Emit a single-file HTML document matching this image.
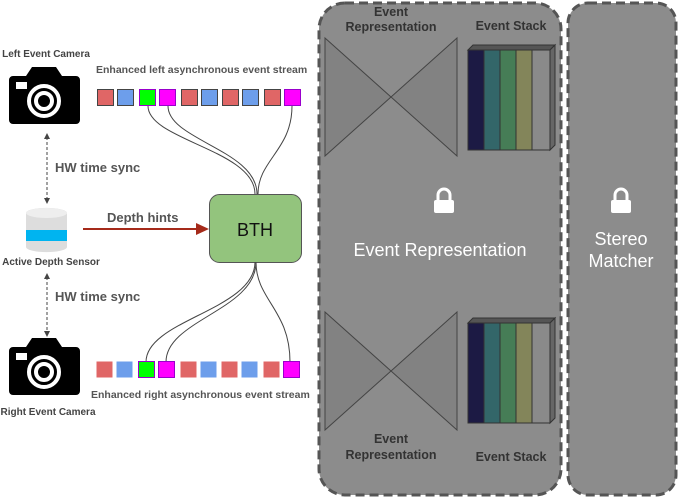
<!DOCTYPE html>
<html><head><meta charset="utf-8"><style>
body{margin:0;width:678px;height:498px;background:#fff;overflow:hidden;font-family:"Liberation Sans",sans-serif}
</style></head><body>
<svg width="678" height="498" xmlns="http://www.w3.org/2000/svg" font-family="Liberation Sans, sans-serif">
<defs>
<g id="cam">
<path d="M32,67 h24 l6,9 h14 a4,4 0 0 1 4,4 v40 a4,4 0 0 1 -4,4 h-63 a4,4 0 0 1 -4,-4 v-40 a4,4 0 0 1 4,-4 h13 z" fill="#000"/>
<rect x="16" y="82" width="11" height="7" fill="#fff"/>
<circle cx="44" cy="101" r="15" fill="none" stroke="#fff" stroke-width="4"/>
<circle cx="44" cy="101" r="8" fill="none" stroke="#fff" stroke-width="4"/>
</g>
<g id="bow">
<polygon points="325,0 391,59 325,118" fill="#828282" stroke="#444" stroke-width="1"/>
<polygon points="457,0 391,59 457,118" fill="#828282" stroke="#444" stroke-width="1"/>
</g>
<g id="stk" stroke="#333" stroke-width="1">
<polygon points="468,5 473,0 555,0 550,5" fill="#555"/>
<polygon points="550,5 555,0 555,100 550,105" fill="#666"/>
<rect x="468" y="5" width="16" height="100" fill="#1c1a44"/>
<rect x="484" y="5" width="16" height="100" fill="#336669"/>
<rect x="500" y="5" width="16" height="100" fill="#467d56"/>
<rect x="516" y="5" width="16" height="100" fill="#83855a"/>
<rect x="532" y="5" width="18" height="100" fill="#8a8a8a"/>
</g>
<g id="lock">
<path d="M-6,0 v-5 a6,6 0 0 1 12,0 v5" fill="none" stroke="#fff" stroke-width="3"/>
<rect x="-10" y="0" width="20" height="13" rx="2" fill="#fff"/>
</g>
</defs>
<rect x="319" y="3" width="242" height="492" rx="26" fill="#8c8c8c" stroke="#555" stroke-width="3" stroke-dasharray="9,5"/>
<rect x="568" y="3" width="108" height="492" rx="20" fill="#8c8c8c" stroke="#555" stroke-width="3" stroke-dasharray="9,5"/>
<use href="#bow" y="38"/>
<use href="#bow" y="312"/>
<use href="#stk" y="45"/>
<use href="#stk" y="318"/>
<g fill="#333" font-weight="bold" font-size="12.5" text-anchor="middle">
<text x="391" y="16">Event</text><text x="391" y="31">Representation</text>
<text x="511" y="30">Event Stack</text>
<text x="391" y="443">Event</text><text x="391" y="459">Representation</text>
<text x="511" y="461">Event Stack</text>
</g>
<use href="#lock" x="444" y="200"/>
<use href="#lock" x="621" y="200"/>
<g fill="#fff" font-size="18" text-anchor="middle">
<text x="440" y="256">Event Representation</text>
<text x="621" y="245">Stereo</text><text x="621" y="267">Matcher</text>
</g>
<use href="#cam"/>
<use href="#cam" y="271"/>
<g fill="#444" font-weight="bold" font-size="10" text-anchor="middle">
<text x="46" y="57">Left Event Camera</text>
<text x="48" y="415">Right Event Camera</text>
<text x="51" y="265">Active Depth Sensor</text>
</g>
<path d="M26,213 a20,5 0 0 1 41,0 v34 a20,5 0 0 1 -41,0 z" fill="#ddd"/>
<ellipse cx="46.5" cy="213" rx="20.5" ry="5" fill="#eee"/>
<rect x="26" y="230" width="41" height="11" fill="#00b4f0"/>
<g stroke="#444" stroke-width="1" stroke-dasharray="3,2">
<line x1="47" y1="137" x2="47" y2="200"/>
<line x1="47" y1="277" x2="47" y2="333"/>
</g>
<g fill="#444">
<polygon points="47,133 44,139 50,139"/><polygon points="47,204 44,198 50,198"/>
<polygon points="47,273 44,279 50,279"/><polygon points="47,337 44,331 50,331"/>
</g>
<g fill="#555" font-weight="bold" font-size="13">
<text x="55" y="172">HW time sync</text>
<text x="55" y="301">HW time sync</text>
<text x="107" y="222">Depth hints</text>
</g>
<line x1="83" y1="229" x2="198" y2="229" stroke="#a52a1a" stroke-width="2"/>
<polygon points="209,229 196,223 196,235" fill="#a52a1a"/>
<rect x="209.5" y="194.5" width="92" height="68" rx="10" fill="#93c47d" stroke="#555"/>
<text x="255" y="236" text-anchor="middle" font-size="18" fill="#111">BTH</text>
<g fill="#555" font-weight="bold" font-size="10.5">
<text x="96" y="73">Enhanced left asynchronous event stream</text>
<text x="91" y="398">Enhanced right asynchronous event stream</text>
</g>
<g stroke="#444" fill="none" stroke-width="1">
<path d="M148,106 C148,140 255,150 255,194"/>
<path d="M168,106 C168,140 257,150 257,194"/>
<path d="M292,106 C292,150 258,160 258,194"/>
<path d="M146,362 C146,320 255,310 255,262"/>
<path d="M166,362 C166,320 256,310 256,262"/>
<path d="M290,362 C290,310 256,300 256,262"/>
</g>
<g stroke="#444" stroke-width="1">
<g id="row">
<rect x="97.5" y="89.5" width="16" height="16" fill="#e06666"/>
<rect x="117.5" y="89.5" width="16" height="16" fill="#6d9eeb"/>
<rect x="139.5" y="89.5" width="16" height="16" fill="#00ff00" stroke="#90c"/>
<rect x="159.5" y="89.5" width="16" height="16" fill="#ff00ff" stroke="#90c"/>
<rect x="181.5" y="89.5" width="16" height="16" fill="#e06666"/>
<rect x="201.5" y="89.5" width="16" height="16" fill="#6d9eeb"/>
<rect x="222.5" y="89.5" width="16" height="16" fill="#e06666"/>
<rect x="242.5" y="89.5" width="16" height="16" fill="#6d9eeb"/>
<rect x="264.5" y="89.5" width="16" height="16" fill="#e06666"/>
<rect x="284.5" y="89.5" width="16" height="16" fill="#ff00ff" stroke="#90c"/>
</g>
</g>
<use href="#row" x="-1" y="272"/>
</svg>
</body></html>
